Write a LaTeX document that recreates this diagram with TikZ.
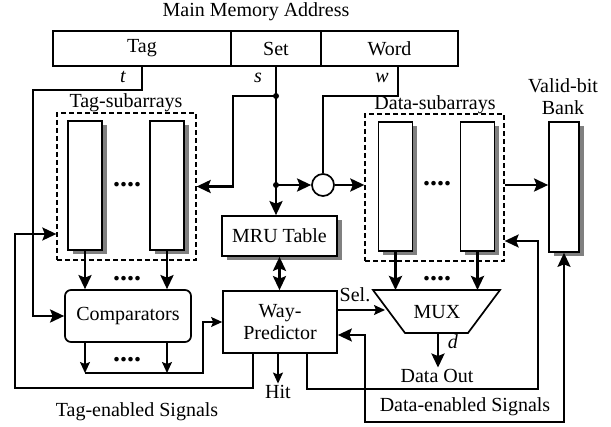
\documentclass[tikz,border=0pt]{standalone}
\usepackage{fontspec}
\setmainfont{Liberation Serif}
\usetikzlibrary{arrows.meta,shadows}

\tikzset{
  addr/.style={draw, line width=1.7pt, minimum height=35pt, inner sep=0pt},
  box/.style={draw, line width=1.7pt, fill=white, inner sep=0pt},
  shade/.style={drop shadow={shadow xshift=4.5pt, shadow yshift=-4pt, fill=gray, opacity=1}},
  sub/.style={box, shade, minimum width=34pt, minimum height=129pt},
  dashbox/.style={draw, dash pattern=on 5pt off 3pt, line width=1.3pt, inner sep=0pt},
  dots/.style={font=\fontsize{28}{28}\selectfont\bfseries, inner sep=0pt},
  bus/.style={line width=2.6pt},
  ctl/.style={line width=2pt},
  sig/.style={line width=1.4pt, >={Stealth[length=11pt,width=10pt,inset=2pt]}},
  lbl/.style={anchor=base, inner sep=2pt}
}

\begin{document}
\begin{tikzpicture}[x=1pt, y=-1pt, font=\fontsize{20}{22}\selectfont,
    >={Stealth[length=14pt,width=13pt,inset=2.5pt]}]
\useasboundingbox (0,0) rectangle (611,427);

\node[lbl] (title) at (256,17) {Main Memory Address};
\node[addr, minimum width=178pt] (tag) at (142,48.5) {Tag};
\node[addr, minimum width=90pt] (set) at (276,48.5) {Set};
\node[addr, minimum width=137pt] (word) at (389.5,48.5) {Word};
\node[lbl] (tl) at (123,83) {\textit{t}};
\node[lbl] (sl) at (258,83) {\textit{s}};
\node[lbl] (wl) at (382,83) {\textit{w}};

\node[dashbox, minimum width=139pt, minimum height=147pt] (tagsub) at (126.5,186.5) {};
\node[lbl] (tagsubl) at (126,108) {Tag-subarrays};
\node[sub] (t1) at (85,185.5) {};
\node[sub] (t2) at (167,185.5) {};
\node[dots] (tdots) at (127,185) {....};

\node[dashbox, minimum width=139pt, minimum height=147pt] (datasub) at (434.5,187.5) {};
\node[lbl] (datasubl) at (435,110) {Data-subarrays};
\node[sub] (d1) at (395.5,186.5) {};
\node[sub] (d2) at (477.5,186.5) {};
\node[dots] (ddots) at (437,184) {....};

\node[box, shade, minimum width=30pt, minimum height=130pt] (valid) at (564,187) {};
\node[lbl] (validl1) at (563,93) {Valid-bit};
\node[lbl] (validl2) at (563,115) {Bank};

\node[box, rounded corners=6pt, minimum width=126pt, minimum height=52pt] (comp) at (128,316) {Comparators};
\node[box, shade, minimum width=115pt, minimum height=40pt] (mru) at (279.5,236) {MRU Table};
\node[box, align=center, minimum width=114pt, minimum height=62pt] (wp) at (280,322) {Way-\\Predictor};
\node[draw, circle, line width=1.7pt, fill=white, minimum size=22pt, inner sep=0pt] (xor) at (323,185) {};

\coordinate (mtl) at (373,290);
\coordinate (mtr) at (500,290);
\coordinate (mbr) at (468,333);
\coordinate (mbl) at (405,333);
\draw[line width=1.7pt] (mtl) -- (mtr) -- (mbr) -- (mbl) -- cycle;
\node (mux) at (437,312) {MUX};

\node[dots] (tdots2) at (127,279) {....};
\node[dots] (cdots) at (127,360) {....};
\node[dots] (ddots2) at (437,279) {....};

% address lines
\coordinate (tturn) at (33,90);
\draw[bus,->] (tag.south) |- (tturn) |- (comp.west);
\coordinate (s1) at (276,96);
\coordinate (s2) at (276,185);
\coordinate (sturn) at (233,96);
\draw[bus,->] (set.south) -- (set.south |- mru.north);
\draw[bus,->] (s1) -- (sturn) |- (tagsub.east);
\draw[bus,->] (s2) -- (xor.west);
\fill (s1) circle (3pt);
\fill (s2) circle (3pt);
\coordinate (wo) at (398,66);
\coordinate (wturn) at (323,96);
\draw[bus] (wo) |- (wturn) -- (xor.north);
\draw[bus,->] (xor.east) -- (xor.east -| datasub.west);
\draw[bus,->] (datasub.east |- xor.east) -- (xor.east -| valid.west);

% subarrays
\draw[bus,->] (t1.south) -- (t1.south |- comp.north);
\draw[bus,->] (t2.south) -- (t2.south |- comp.north);
\draw[bus,->] (d1.south) -- (d1.south |- mtl);
\draw[bus,->] (d2.south) -- (d2.south |- mtl);

\coordinate (c1) at (85,373);
\coordinate (c2) at (167,373);
\coordinate (cturn) at (203,373);
\draw[sig,->] (c1 |- comp.south) -- (c1);
\draw[sig,->] (c2 |- comp.south) -- (c2);
\draw[sig,->] (c1) -- (cturn) |- (wp.west);

\draw[bus,<->] (mru.south) -- (mru.south |- wp.north);

\node[lbl] (hit) at (278,399) {Hit};
\draw[sig,->] (wp.south -| hit) -- (hit.north);

\coordinate (muxin) at (385,310);
\node[lbl] (sel) at (355,302) {Sel.};
\draw[sig,->] (wp.east |- muxin) -- (muxin);

\coordinate (mbot) at (438,333);
\node[lbl] (dout) at (437,383) {Data Out};
\node[lbl] (dl) at (453,349) {\textit{d}};
\draw[bus,->] (mbot) -- (mbot |- dout.north);

% enable signals
\coordinate (te1) at (253,388);
\coordinate (te2) at (15,234);
\draw[ctl,->] (wp.south -| te1) -- (te1) -| (te2) -- (te2 -| tagsub.west);
\node[lbl] (tel) at (137,417) {Tag-enabled Signals};

\coordinate (de1) at (307,389);
\coordinate (de2) at (538,241);
\draw[ctl,->] (wp.south -| de1) -- (de1) -| (de2) -- (de2 -| datasub.east);
\coordinate (v1) at (365,335);
\coordinate (v2) at (365,422);
\draw[ctl,<->] (v1 -| wp.east) -- (v1) -- (v2) -| (valid.south);
\node[lbl] (del) at (465,412) {Data-enabled Signals};
\end{tikzpicture}
\end{document}
